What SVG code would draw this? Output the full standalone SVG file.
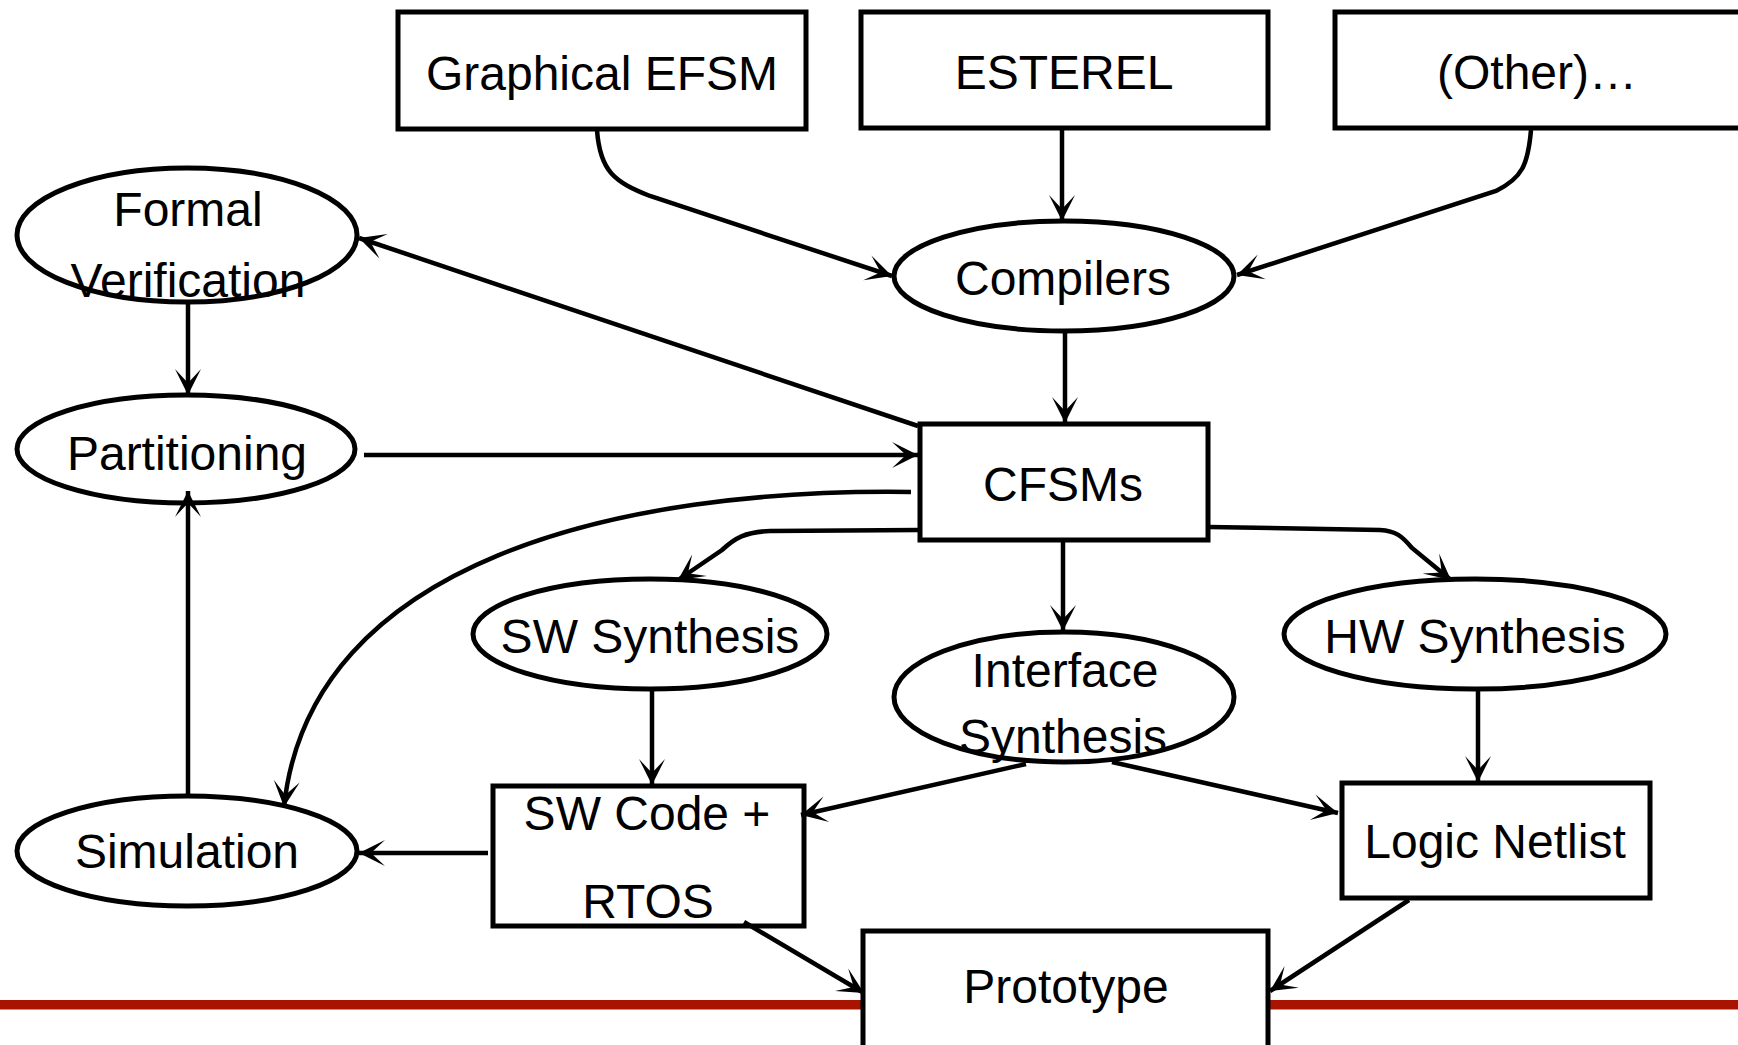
<svg xmlns="http://www.w3.org/2000/svg" width="1738" height="1045" viewBox="0 0 1738 1045">
  <style>
    .shape { fill: #ffffff; stroke: #000000; stroke-width: 5; }
    .label { font-family: "Liberation Sans", Arial, sans-serif; font-size: 48px; fill: #000000; text-anchor: middle; }
    .wire { fill: none; stroke: #000000; stroke-width: 4.5; marker-end: url(#arrow); }
  </style>
  <defs>
    <marker id="arrow" viewBox="-28 -14 30 28" refX="0" refY="0" markerWidth="30" markerHeight="28" markerUnits="userSpaceOnUse" orient="auto">
      <path d="M0,0 L-26,-13 L-12,0 L-26,13 Z" fill="#000000"/>
    </marker>
  </defs>

  <rect width="1738" height="1045" fill="#ffffff"/>

  <!-- footer rule -->
  <rect x="0" y="1000" width="1738" height="9.5" fill="#a81400"/>

  <g id="nodes">
    <g id="graphical-efsm">
      <rect class="shape" x="398" y="12" width="408" height="117"/>
      <text class="label" x="602" y="90">Graphical EFSM</text>
    </g>
    <g id="esterel">
      <rect class="shape" x="861" y="12" width="407" height="116"/>
      <text class="label" x="1064" y="89">ESTEREL</text>
    </g>
    <g id="other">
      <rect class="shape" x="1335" y="12" width="420" height="116"/>
      <text class="label" x="1537" y="89">(Other)…</text>
    </g>
    <g id="compilers">
      <ellipse class="shape" cx="1064" cy="276" rx="170" ry="55"/>
      <text class="label" x="1063" y="295">Compilers</text>
    </g>
    <g id="formal-verification">
      <ellipse class="shape" cx="187" cy="235" rx="170" ry="67"/>
      <text class="label" x="188" y="226">Formal</text>
      <text class="label" x="188" y="297">Verification</text>
    </g>
    <g id="partitioning">
      <ellipse class="shape" cx="186" cy="449" rx="169" ry="54"/>
      <text class="label" x="187" y="470">Partitioning</text>
    </g>
    <g id="cfsms">
      <rect class="shape" x="920" y="424" width="288" height="116"/>
      <text class="label" x="1063" y="501">CFSMs</text>
    </g>
    <g id="sw-synthesis">
      <ellipse class="shape" cx="650" cy="634" rx="177" ry="55"/>
      <text class="label" x="650" y="653">SW Synthesis</text>
    </g>
    <g id="interface-synthesis">
      <ellipse class="shape" cx="1064" cy="697" rx="170" ry="65"/>
      <text class="label" x="1065" y="687">Interface</text>
      <text class="label" x="1063" y="753">Synthesis</text>
    </g>
    <g id="hw-synthesis">
      <ellipse class="shape" cx="1475" cy="634" rx="191" ry="55"/>
      <text class="label" x="1475" y="653">HW Synthesis</text>
    </g>
    <g id="simulation">
      <ellipse class="shape" cx="187" cy="851" rx="170" ry="55"/>
      <text class="label" x="187" y="868">Simulation</text>
    </g>
    <g id="sw-code-rtos">
      <rect class="shape" x="493" y="786" width="311" height="140"/>
      <text class="label" x="647" y="830">SW Code +</text>
      <text class="label" x="648" y="918">RTOS</text>
    </g>
    <g id="logic-netlist">
      <rect class="shape" x="1342" y="783" width="308" height="115"/>
      <text class="label" x="1495" y="858">Logic Netlist</text>
    </g>
    <g id="prototype">
      <rect class="shape" x="863" y="931" width="405" height="130"/>
      <text class="label" x="1066" y="1003">Prototype</text>
    </g>
  </g>

  <g id="connectors">
    <path class="wire" d="M597 130 C600 172 615 182 650 196 L892 276"/>
    <path class="wire" d="M1062 130 L1062 221"/>
    <path class="wire" d="M1531 130 C1528 165 1522 178 1496 191 L1237 275"/>
    <path class="wire" d="M1065 332 L1065 423"/>
    <path class="wire" d="M918 426 L359 238"/>
    <path class="wire" d="M364 455 L918 455"/>
    <path class="wire" d="M188 303 L188 395"/>
    <path class="wire" d="M188 795 L188 491"/>
    <path class="wire" d="M911 492 C620 488 310 560 284 807"/>
    <path class="wire" d="M919 530 L770 531 C745 532 735 538 722 550 L678 580"/>
    <path class="wire" d="M1209 527 L1380 530 C1396 531 1402 536 1412 548 L1451 580"/>
    <path class="wire" d="M1063 541 L1063 631"/>
    <path class="wire" d="M652 690 L652 785"/>
    <path class="wire" d="M1478 690 L1478 782"/>
    <path class="wire" d="M1026 764 L801 815"/>
    <path class="wire" d="M1112 762 L1338 813"/>
    <path class="wire" d="M488 853 L359 853"/>
    <path class="wire" d="M1409 900 L1270 991"/>
    <path class="wire" d="M744 922 L864 993"/>
  </g>
</svg>
